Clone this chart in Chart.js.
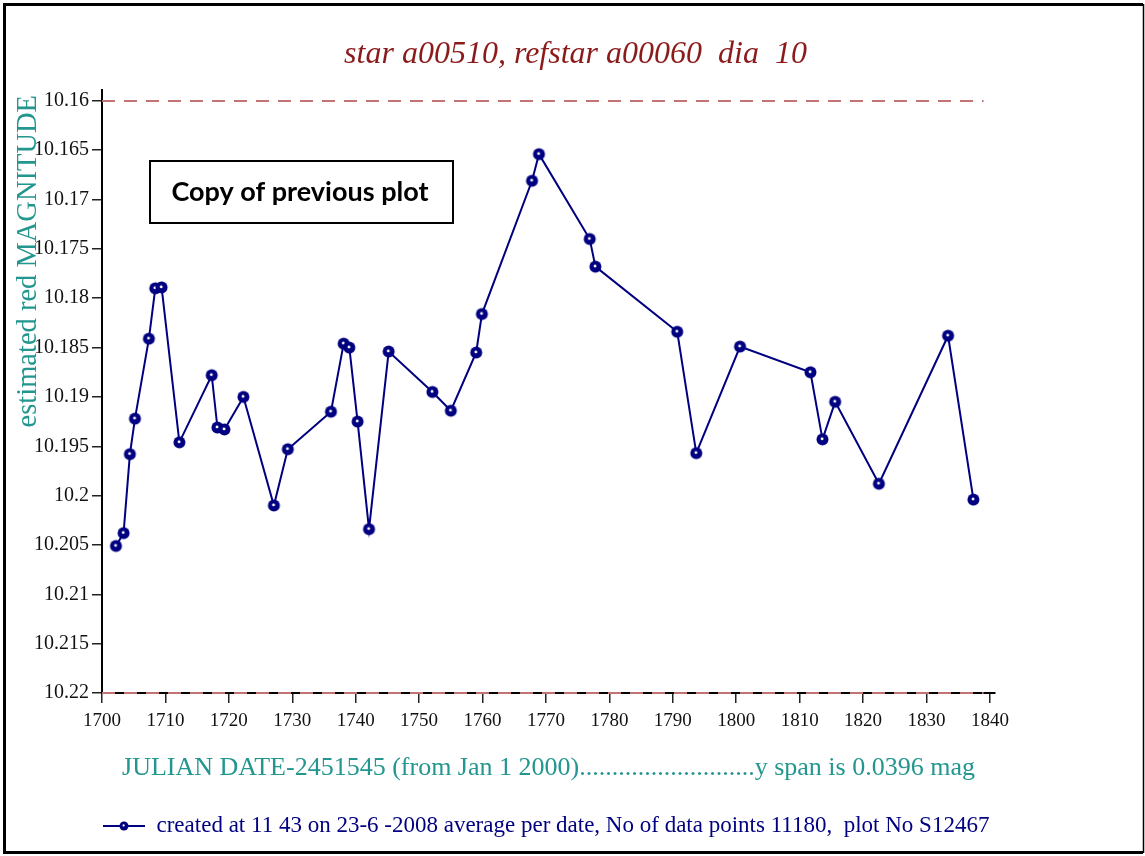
<!DOCTYPE html>
<html>
<head>
<meta charset="utf-8">
<script src="https://cdn.jsdelivr.net/npm/chart.js@4/dist/chart.umd.min.js"></script>
<style>
  html, body { margin: 0; padding: 0; background: #fff; }
  #wrap { width: 1145px; height: 856px; }
</style>
</head>
<body>
<div id="wrap"><canvas id="plot" width="1145" height="856"></canvas></div>
<script>
// star a00510 vs refstar a00060 — moyenne par date (JD - 2451545)
const JOURS = [1702.2, 1703.4, 1704.4, 1705.2, 1707.4, 1708.4, 1709.4, 1712.2, 1717.3, 1718.2,
  1719.3, 1722.3, 1727.1, 1729.3, 1736.1, 1738.1, 1739.0, 1740.3, 1742.1, 1745.2,
  1752.1, 1755.0, 1759.0, 1759.9, 1767.8, 1768.9, 1776.9, 1777.8, 1790.7, 1793.7,
  1800.6, 1811.7, 1813.6, 1815.6, 1822.5, 1833.4, 1837.4]
const MAGS = [10.2051, 10.2038, 10.1958, 10.1922, 10.1841, 10.1790, 10.1789, 10.1946, 10.1878, 10.1931,
  10.1933, 10.1900, 10.2010, 10.1953, 10.1915, 10.1846, 10.1850, 10.1925, 10.2034, 10.1854,
  10.1895, 10.1914, 10.1855, 10.1816, 10.1681, 10.1654, 10.1740, 10.1768, 10.1834, 10.1957,
  10.1849, 10.1875, 10.1943, 10.1905, 10.1988, 10.1838, 10.2004]
const X_TICKS = [1700, 1710, 1720, 1730, 1740, 1750, 1760, 1770, 1780, 1790, 1800, 1810, 1820, 1830, 1840]
const Y_TICKS = [10.16, 10.165, 10.17, 10.175, 10.18, 10.185, 10.19, 10.195, 10.2, 10.205, 10.21, 10.215, 10.22]
const LIGNES_REF = [10.16, 10.22]

const MARINE = '#000080'
const SARCELLE = '#22968f'
const BORDEAUX = '#8b1a1a'
const ROSE = '#c27474'
const SERIF = "'Liberation Serif', 'DejaVu Serif', serif"

// marqueur : disque marine avec reflet blanc
function marqueur(r) {
  const c = document.createElement('canvas')
  const s = Math.ceil(r * 2 + 3)
  c.width = s; c.height = s
  const g = c.getContext('2d')
  g.fillStyle = MARINE
  g.beginPath(); g.arc(s / 2, s / 2, r, 0, Math.PI * 2); g.fill()
  g.fillStyle = '#fff'
  g.beginPath(); g.arc(s / 2 - 0.4, s / 2 - 0.6, r * 0.24, 0, Math.PI * 2); g.fill()
  return c
}

function marqueurLegende() {
  const c = document.createElement('canvas')
  c.width = 42; c.height = 12
  const g = c.getContext('2d')
  g.strokeStyle = MARINE; g.lineWidth = 2
  g.beginPath(); g.moveTo(0, 6); g.lineTo(42, 6); g.stroke()
  g.drawImage(marqueur(4.5), 21 - 6, 0)
  return c
}

// fond blanc, cadre de la page, titre vertical (aligné en haut) et encadré
const cadre = {
  id: 'cadre',
  beforeDraw(chart) {
    const { ctx, width, height } = chart
    ctx.save()
    ctx.fillStyle = '#fff'
    ctx.fillRect(0, 0, width, height)
    ctx.restore()
  },
  afterLayout(chart) {
    // la légende déborde un peu de la zone du graphique : on élargit sa boîte
    const lg = chart.legend
    lg.left = chart.chartArea.left - lg.options.labels.padding + 1
    lg.right = chart.width - 6
    lg.width = lg.right - lg.left
  },
  afterDraw(chart) {
    const { ctx, chartArea } = chart
    ctx.save()
    ctx.strokeStyle = '#000'
    ctx.lineWidth = 3
    ctx.beginPath()
    ctx.moveTo(1143, 4.5); ctx.lineTo(4.5, 4.5); ctx.lineTo(4.5, 852.5); ctx.lineTo(1143, 852.5)
    ctx.stroke()
    ctx.lineWidth = 1.5
    ctx.beginPath(); ctx.moveTo(1143.5, 4); ctx.lineTo(1143.5, 853); ctx.stroke()

    ctx.save()
    ctx.translate(29, chartArea.top + 5)
    ctx.rotate(-Math.PI / 2)
    ctx.fillStyle = SARCELLE
    ctx.font = `28.5px ${SERIF}`
    ctx.textAlign = 'right'
    ctx.textBaseline = 'middle'
    ctx.fillText('estimated red MAGNITUDE', 0, 0)
    ctx.restore()

    const bx = chartArea.left + 48, by = chartArea.top + 71
    ctx.lineWidth = 2
    ctx.strokeRect(bx, by, 303, 62)
    ctx.fillStyle = '#000'
    ctx.font = "bold 27px Lato, 'Liberation Sans', sans-serif"
    ctx.textAlign = 'center'
    ctx.textBaseline = 'middle'
    ctx.fillText('Copy of previous plot', bx + 150, by + 31)
    ctx.restore()
  },
}

// lignes tiretées aux bornes de l'échelle
const lignesRef = {
  id: 'lignesRef',
  beforeDatasetsDraw(chart) {
    const { ctx, chartArea, scales } = chart
    ctx.save()
    ctx.strokeStyle = ROSE
    ctx.lineWidth = 2
    ctx.setLineDash([13, 9])
    for (const v of LIGNES_REF) {
      const y = Math.round(scales.y.getPixelForValue(v))
      ctx.beginPath()
      ctx.moveTo(chartArea.left, y)
      ctx.lineTo(scales.x.getPixelForValue(1839), y)
      ctx.stroke()
    }
    ctx.restore()
  },
}

new Chart(document.getElementById('plot'), {
  type: 'scatter',
  data: {
    datasets: [{
      label: 'created at 11 43 on 23-6 -2008 average per date, No of data points 11180,  plot No S12467',
      data: JOURS.map((j, i) => ({ x: j, y: MAGS[i] })),
      showLine: true,
      borderColor: MARINE,
      borderWidth: 2,
      pointStyle: marqueur(6),
      pointRadius: 6,
    }],
  },
  options: {
    responsive: false,
    animation: false,
    devicePixelRatio: 1,
    layout: { padding: { left: 6, right: 0, top: 0, bottom: 8.5 } },
    plugins: {
      title: {
        display: true,
        text: 'star a00510, refstar a00060  dia  10',
        color: BORDEAUX,
        font: { family: SERIF, size: 32, style: 'italic', weight: 'normal' },
        padding: { top: 35.5, bottom: 16.1 },
      },
      legend: {
        position: 'bottom',
        fullSize: false,
        align: 'start',
        labels: {
          usePointStyle: true,
          pointStyleWidth: 42,
          color: MARINE,
          font: { family: SERIF, size: 23 },
          generateLabels: (chart) => [{
            text: chart.data.datasets[0].label,
            pointStyle: marqueurLegende(),
            fontColor: MARINE,
            datasetIndex: 0,
            lineWidth: 0,
          }],
        },
      },
      tooltip: { enabled: false },
    },
    scales: {
      x: {
        type: 'linear',
        min: 1700,
        max: 1840.8,
        afterBuildTicks: (axis) => { axis.ticks = X_TICKS.map(v => ({ value: v })) },
        afterFit: (axis) => { axis.height = 111.5 },
        ticks: { color: '#111', font: { family: SERIF, size: 19 }, padding: 7, maxRotation: 0, autoSkip: false, callback: (v) => String(v) },
        grid: { drawOnChartArea: false, drawTicks: true, tickLength: 10, color: '#222', lineWidth: 1.5 },
        border: { color: '#000', width: 2 },
        title: {
          display: true,
          text: 'JULIAN DATE-2451545 (from Jan 1 2000)...........................y span is 0.0396 mag',
          color: SARCELLE,
          font: { family: SERIF, size: 26 },
          padding: { top: 0, bottom: 20.4 },
        },
      },
      y: {
        type: 'linear',
        reverse: true,
        min: 10.1589,
        max: 10.22,
        afterBuildTicks: (axis) => { axis.ticks = Y_TICKS.map(v => ({ value: v })) },
        afterFit: (axis) => { axis.width = 96 },
        ticks: { color: '#111', font: { family: SERIF, size: 20 }, padding: 3, autoSkip: false, callback: (v) => String(v) },
        grid: { drawOnChartArea: false, drawTicks: true, tickLength: 10, color: '#222', lineWidth: 1.5 },
        border: { color: '#000', width: 2 },
      },
      marge: {
        type: 'linear',
        position: 'right',
        display: true,
        afterFit: (axis) => { axis.width = 150 },
        ticks: { display: false },
        grid: { display: false, drawTicks: false },
        border: { display: false },
      },
    },
  },
  plugins: [cadre, lignesRef],
})
</script>
</body>
</html>
